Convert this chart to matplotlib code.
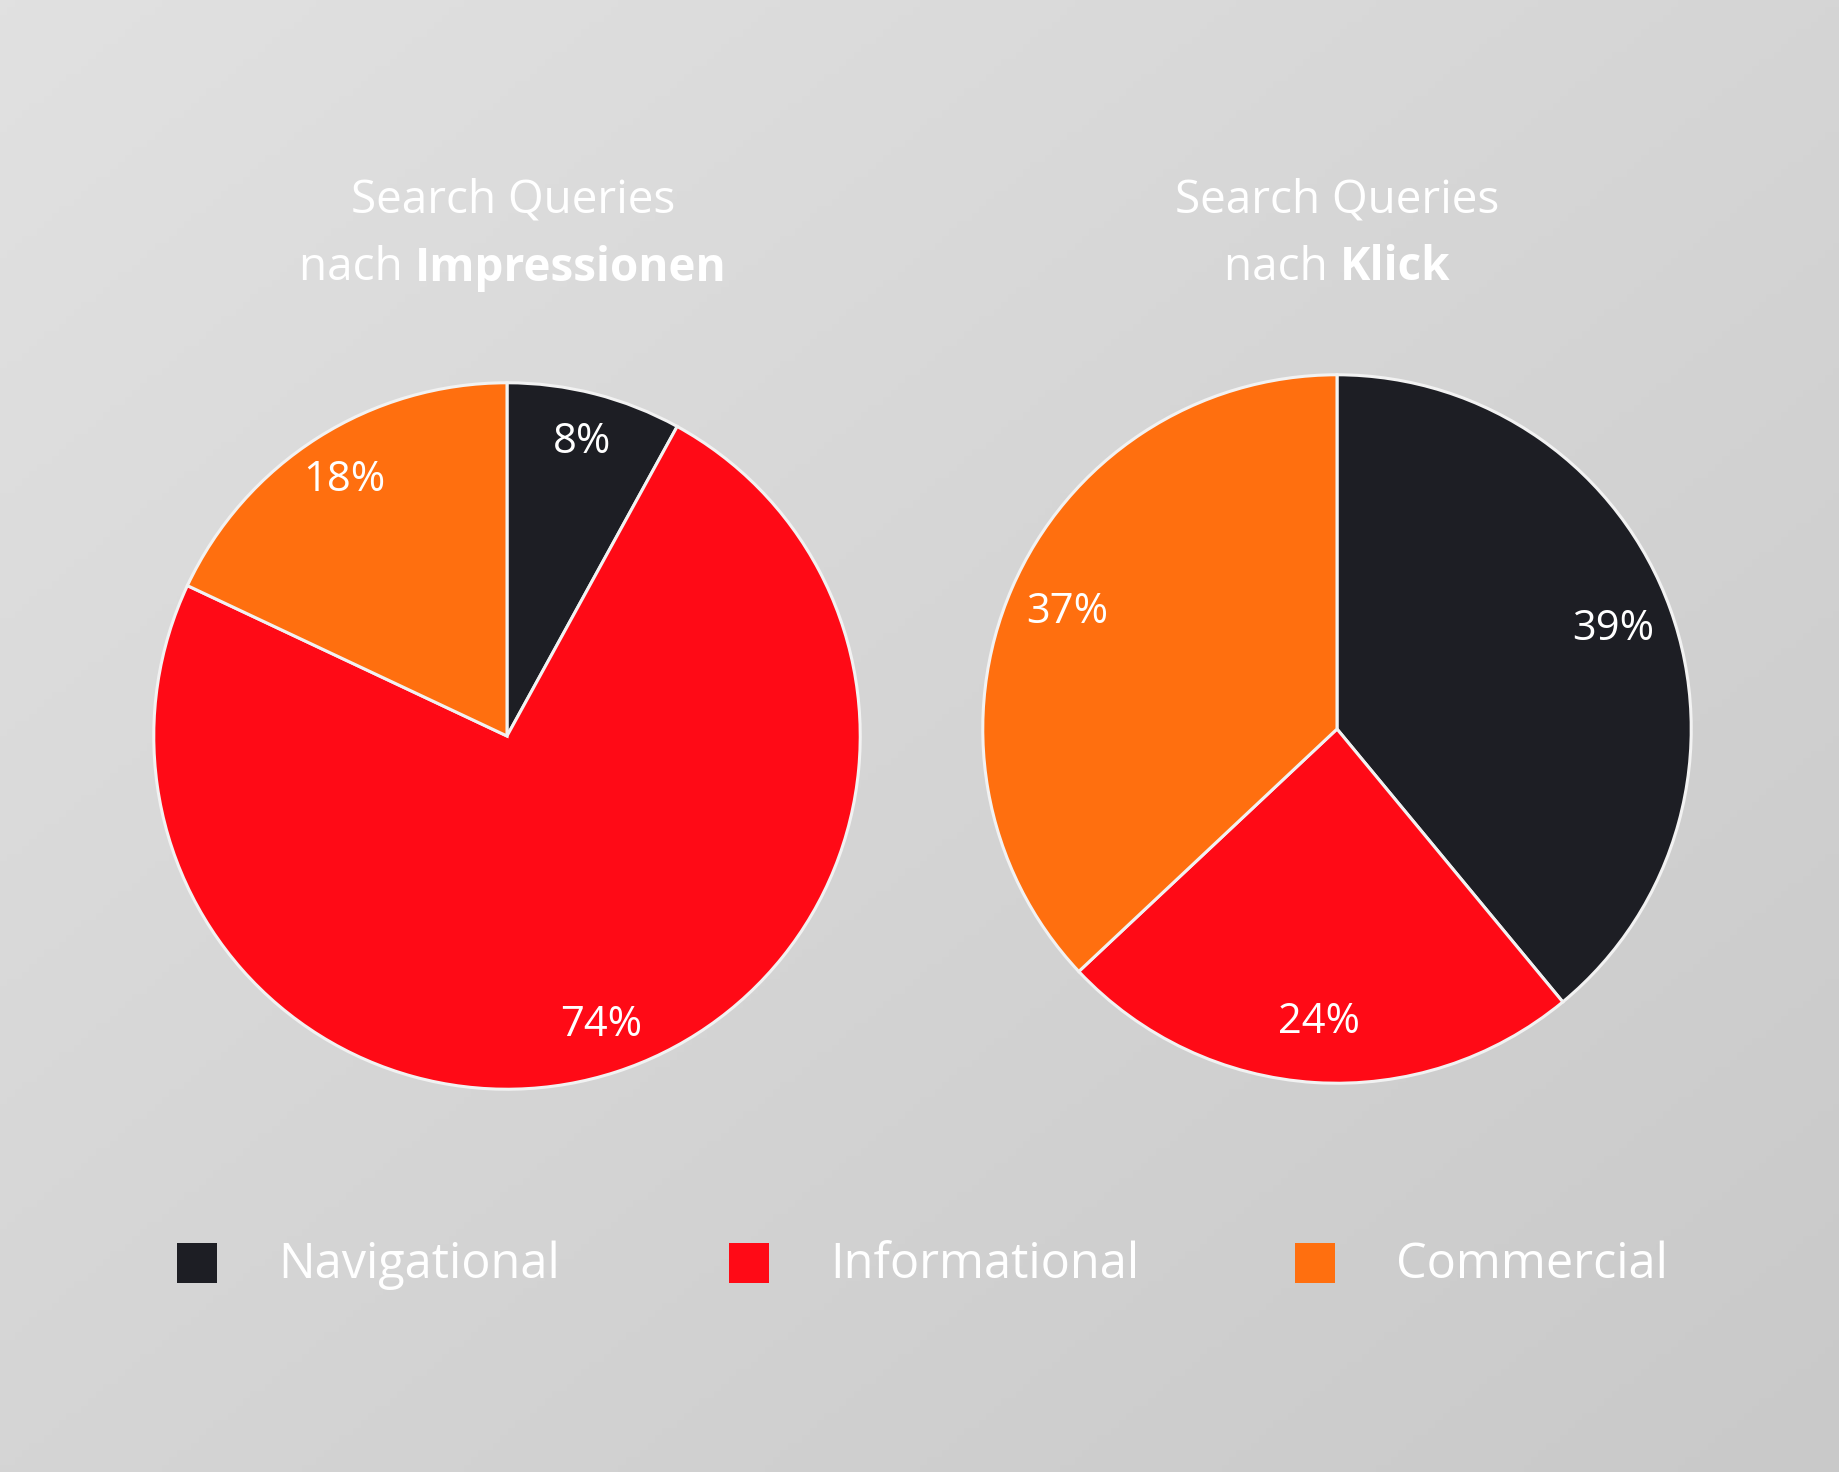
import numpy as np
import matplotlib
matplotlib.use("Agg")
import matplotlib.pyplot as plt

# data
categories = ["Navigational", "Informational", "Commercial"]
impressions = [8, 74, 18]
clicks = [39, 24, 37]
colors = ["#1d1e24", "#ff0a16", "#ff6f0f"]
titles = [("Search Queries", "nach ", "Impressionen"),
          ("Search Queries", "nach ", "Klick")]

plt.rcParams["font.family"] = ["Open Sans", "DejaVu Sans"]

W, H = 1840, 1472
fig = plt.figure(figsize=(W / 100, H / 100), dpi=100)

# background gradient, lighter top-left
bg = fig.add_axes([0, 0, 1, 1], zorder=-10)
yy, xx = np.mgrid[0:1:200j, 0:1:250j]
g = 0.5 * xx + 0.5 * yy
bg.imshow(g, cmap=matplotlib.colors.LinearSegmentedColormap.from_list(
    "bg", ["#e1e1e1", "#c9c9c9"]), extent=[0, 1, 0, 1], aspect="auto",
    origin="upper")
bg.set_axis_off()


def pie_axes(cx, cy, r):
    return fig.add_axes([(cx - r) / W, 1 - (cy + r) / H, 2 * r / W, 2 * r / H])


def draw_pie(ax, values, pctdist):
    ax.pie(values, colors=colors, startangle=90, counterclock=False,
           radius=1, autopct=lambda p: f"{p:.0f}%", pctdistance=pctdist,
           wedgeprops=dict(edgecolor="#f2f2f2", linewidth=2.2),
           textprops=dict(color="white", fontsize=30))
    ax.set_xlim(-1.005, 1.005)
    ax.set_ylim(-1.005, 1.005)
    ax.set_axis_off()


ax1 = pie_axes(507, 736, 355)
draw_pie(ax1, impressions, 0.86)
ax2 = pie_axes(1337, 729, 356)
draw_pie(ax2, clicks, 0.83)

# titles: first line regular, second line "nach " regular + bold word
renderer = fig.canvas.get_renderer()
for cx, (l1, pre, bold) in zip([513, 1337], titles):
    fig.text(cx / W, 1 - 200 / H, l1, ha="center", va="center",
             color="white", fontsize=33)
    t1 = fig.text(0, 1 - 268 / H, pre, ha="left", va="center",
                  color="white", fontsize=33)
    t2 = fig.text(0, 1 - 268 / H, bold, ha="left", va="center",
                  color="white", fontsize=33, fontweight="bold")
    w1 = t1.get_window_extent(renderer).width
    w2 = t2.get_window_extent(renderer).width
    x0 = cx - (w1 + w2) / 2
    t1.set_x(x0 / W)
    t2.set_x((x0 + w1) / W)

# legend
sq_x = [177, 729, 1295]
for x, c, name in zip(sq_x, colors, categories):
    fig.patches.append(matplotlib.patches.Rectangle(
        (x / W, 1 - 1283 / H), 40 / W, 40 / H, transform=fig.transFigure,
        facecolor=c, edgecolor="none"))
    fig.text((x + 101) / W, 1 - 1265 / H, name, ha="left", va="center",
             color="white", fontsize=35)

fig.savefig("out.png", dpi=100)
